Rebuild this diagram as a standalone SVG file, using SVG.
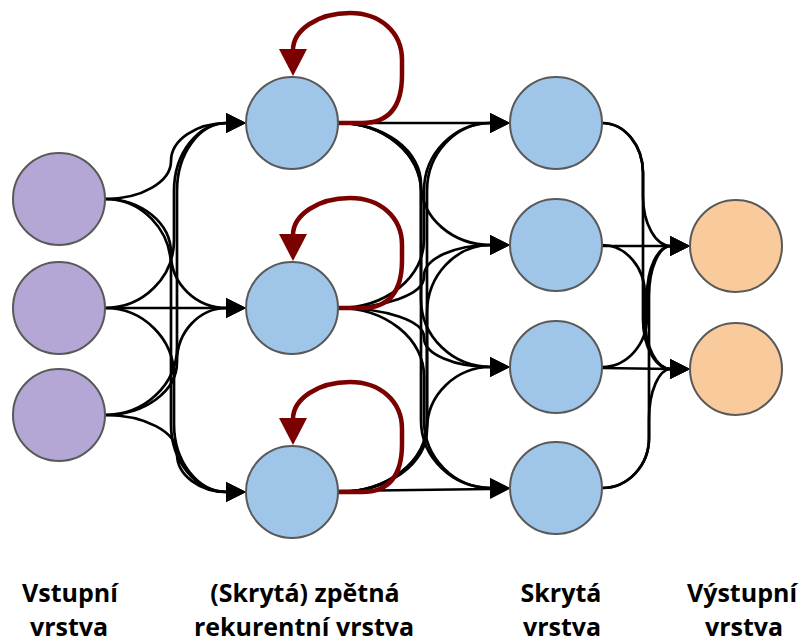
<svg xmlns="http://www.w3.org/2000/svg" width="809" height="643" viewBox="0 0 809 643">
  <style>
    .node { stroke: #595959; stroke-width: 2; }
    .in { fill: #b4a7d6; }
    .hid { fill: #9fc5e8; }
    .out { fill: #f9cb9c; }
    .edge { fill: none; stroke: #000; stroke-width: 2.7; marker-end: url(#arrow); }
    .loop { fill: none; stroke: #7b0000; stroke-width: 4.5; marker-end: url(#loopArrow); }
    .label { font-family: "Open Sans", "Noto Sans", sans-serif; font-weight: bold; font-size: 25px; fill: #000; text-anchor: middle; }
  </style>
  <defs>
    <marker id="arrow" markerUnits="userSpaceOnUse" viewBox="0 -10 20 20" markerWidth="20" markerHeight="20" refX="1" refY="0" orient="auto">
      <path d="M0,-10 L20,0 L0,10 Z" fill="#000"/>
    </marker>
    <marker id="loopArrow" markerUnits="userSpaceOnUse" viewBox="0 -14 27 28" markerWidth="27" markerHeight="28" refX="1" refY="0" orient="auto">
      <path d="M0,-14 L27,0 L0,14 Z" fill="#7b0000"/>
    </marker>
  </defs>

  <!-- connectors: horizontal exit, rounded bend, vertical run, rounded bend, horizontal entry -->
  <g id="connectors">
    <!-- input layer to recurrent layer -->
    <path class="edge" d="M105,199 A66,38 0 0 0 171,161 A56,38 0 0 1 227,123"/>
    <path class="edge" d="M105,199 A66,54 0 0 1 171,253 L171,254 A56,54 0 0 0 227,308"/>
    <path class="edge" d="M105,199 A66,68 0 0 1 171,267 L171,424 A56,68 0 0 0 227,492"/>
    <path class="edge" d="M105,308 A69,68 0 0 0 174,240 L174,191 A53,68 0 0 1 227,123"/>
    <path class="edge" d="M105,308 L227,308"/>
    <path class="edge" d="M105,308 A69,68 0 0 1 174,376 L174,424 A53,68 0 0 0 227,492"/>
    <path class="edge" d="M105,415 A72,68 0 0 0 177,347 L177,191 A50,68 0 0 1 227,123"/>
    <path class="edge" d="M105,415 A72,53 0 0 0 177,362 L177,361 A50,53 0 0 1 227,308"/>
    <path class="edge" d="M105,415 A72,38 0 0 1 177,453 L177,454 A50,38 0 0 0 227,492"/>
    <!-- recurrent layer to hidden layer -->
    <path class="edge" d="M338,123 L491,123"/>
    <path class="edge" d="M338,123 A83,61 0 0 1 421,184 A70,61 0 0 0 491,245"/>
    <path class="edge" d="M338,123 A83,68 0 0 1 421,191 L421,299 A70,68 0 0 0 491,367"/>
    <path class="edge" d="M338,123 A83,68 0 0 1 421,191 L421,420 A70,68 0 0 0 491,488"/>
    <path class="edge" d="M338,308 A86,68 0 0 0 424,240 L424,191 A67,68 0 0 1 491,123"/>
    <path class="edge" d="M338,308 A86,31 0 0 0 424,277 L424,276 A67,31 0 0 1 491,245"/>
    <path class="edge" d="M338,308 A86,29 0 0 1 424,337 L424,338 A67,29 0 0 0 491,367"/>
    <path class="edge" d="M338,308 A86,68 0 0 1 424,376 L424,420 A67,68 0 0 0 491,488"/>
    <path class="edge" d="M338,492 A89,68 0 0 0 427,424 L427,191 A64,68 0 0 1 491,123"/>
    <path class="edge" d="M338,492 A89,68 0 0 0 427,424 L427,313 A64,68 0 0 1 491,245"/>
    <path class="edge" d="M338,492 A89,62 0 0 0 427,430 L427,429 A64,62 0 0 1 491,367"/>
    <path class="edge" d="M338,491 L491,489"/>
    <!-- hidden layer to output layer -->
    <path class="edge" d="M602,123 A41,50 0 0 1 643,173 L643,196 A28,50 0 0 0 671,246"/>
    <path class="edge" d="M602,123 A41,50 0 0 1 643,173 L643,319 A28,50 0 0 0 671,369"/>
    <path class="edge" d="M602,246 L671,246"/>
    <path class="edge" d="M602,245 A43,50 0 0 1 645,295 L645,319 A26,50 0 0 0 671,369"/>
    <path class="edge" d="M602,367 A45,50 0 0 0 647,317 L647,296 A24,50 0 0 1 671,246"/>
    <path class="edge" d="M602,368 L671,369"/>
    <path class="edge" d="M602,488 A47,50 0 0 0 649,438 L649,296 A22,50 0 0 1 671,246"/>
    <path class="edge" d="M602,488 A47,50 0 0 0 649,438 L649,419 A22,50 0 0 1 671,369"/>
    <!-- self loops of the recurrent layer -->
    <path class="loop" d="M338,123 L362,123 C392,123 402,103 402,75 L402,60 C402,32 380,13 350,13 C318,13 293,30 293,50"/>
    <path class="loop" d="M338,308 L362,308 C392,308 402,288 402,260 L402,245 C402,217 380,198 350,198 C318,198 293,215 293,235"/>
    <path class="loop" d="M338,492 L362,492 C392,492 402,472 402,444 L402,429 C402,401 380,382 350,382 C318,382 293,399 293,419"/>
  </g>

  <!-- input layer -->
  <g id="input-1"><circle class="node in" cx="59" cy="199" r="46"/></g>
  <g id="input-2"><circle class="node in" cx="59" cy="308" r="46"/></g>
  <g id="input-3"><circle class="node in" cx="59" cy="415" r="46"/></g>

  <!-- recurrent layer -->
  <g id="recurrent-1"><circle class="node hid" cx="292" cy="123" r="46"/></g>
  <g id="recurrent-2"><circle class="node hid" cx="292" cy="308" r="46"/></g>
  <g id="recurrent-3"><circle class="node hid" cx="292" cy="492" r="46"/></g>

  <!-- hidden layer -->
  <g id="hidden-1"><circle class="node hid" cx="556" cy="123" r="46"/></g>
  <g id="hidden-2"><circle class="node hid" cx="556" cy="245" r="46"/></g>
  <g id="hidden-3"><circle class="node hid" cx="556" cy="367" r="46"/></g>
  <g id="hidden-4"><circle class="node hid" cx="556" cy="488" r="46"/></g>

  <!-- output layer -->
  <g id="output-1"><circle class="node out" cx="736" cy="246" r="46"/></g>
  <g id="output-2"><circle class="node out" cx="736" cy="369" r="46"/></g>

  <!-- layer captions -->
  <g id="captions">
    <text class="label" x="70" y="602">Vstupní</text>
    <text class="label" x="69" y="636">vrstva</text>
    <text class="label" x="305" y="602">(Skrytá) zpětná</text>
    <text class="label" x="304" y="636">rekurentní vrstva</text>
    <text class="label" x="561" y="602">Skrytá</text>
    <text class="label" x="562" y="636">vrstva</text>
    <text class="label" x="742" y="602">Výstupní</text>
    <text class="label" x="744" y="636">vrstva</text>
  </g>
</svg>
